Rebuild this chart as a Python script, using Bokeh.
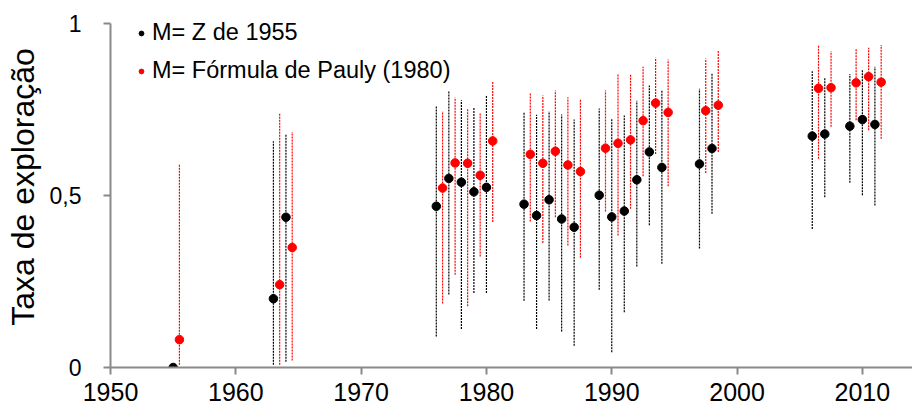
from bokeh.plotting import figure
from bokeh.models import ColumnDataSource, FixedTicker, Legend, LegendItem
from bokeh.transform import dodge
from bokeh.embed import file_html
from bokeh.resources import INLINE

nan = float("nan")

# ---- data ----
years = [1955, 1963, 1964, 1976, 1977, 1978, 1979, 1980, 1983, 1984, 1985, 1986,
         1987, 1989, 1990, 1991, 1992, 1993, 1994, 1997, 1998, 2006, 2007, 2009,
         2010, 2011]

# M = Z de 1955 (black)
z_vals = [0.000, 0.200, 0.437, 0.469, 0.550, 0.539, 0.511, 0.524, 0.475, 0.442,
          0.488, 0.432, 0.408, 0.501, 0.438, 0.455, 0.546, 0.627, 0.582, 0.592,
          0.637, 0.673, 0.679, 0.702, 0.721, 0.707]
z_lo = [nan, 0.008, 0.017, 0.090, 0.212, 0.112, 0.217, 0.217, 0.194, 0.112,
        0.195, 0.105, 0.063, 0.226, 0.044, 0.161, 0.294, 0.414, 0.302, 0.346,
        0.447, 0.403, 0.495, 0.537, 0.501, 0.471]
z_hi = [nan, 0.658, 0.680, 0.760, 0.806, 0.777, 0.758, 0.791, 0.743, 0.735,
        0.745, 0.736, 0.721, 0.753, 0.723, 0.733, 0.776, 0.820, 0.807, 0.811,
        0.855, 0.862, 0.843, 0.854, 0.867, 0.875]

# M = Fórmula de Pauly (1980) (red)
pauly_vals = [0.081, 0.241, 0.349, 0.522, 0.595, 0.594, 0.559, 0.659, 0.620, 0.594,
              0.629, 0.589, 0.570, 0.638, 0.652, 0.662, 0.718, 0.769, 0.742, 0.747,
              0.763, 0.812, 0.814, 0.828, 0.846, 0.830]
pauly_lo = [0.008, 0.008, 0.020, 0.186, 0.270, 0.178, 0.323, 0.423, 0.425, 0.362,
            0.437, 0.355, 0.319, 0.454, 0.384, 0.462, 0.556, 0.621, 0.527, 0.566,
            0.627, 0.607, 0.700, 0.719, 0.690, 0.665]
pauly_hi = [0.592, 0.739, 0.685, 0.745, 0.785, 0.753, 0.739, 0.833, 0.799, 0.791,
            0.806, 0.786, 0.780, 0.806, 0.852, 0.852, 0.875, 0.901, 0.896, 0.899,
            0.923, 0.937, 0.920, 0.927, 0.930, 0.938]

x_ticks = [1950, 1960, 1970, 1980, 1990, 2000, 2010]
y_ticks = [0, 0.5, 1]
y_tick_labels = ["0", "0,5", "1"]
series_labels = ["M= Z de 1955", "M= Fórmula de Pauly (1980)"]
y_title = "Taxa de exploração"

FONT = "Liberation Sans"
AXIS_GRAY = "#898989"
RED = "#FF0000"

src_z = ColumnDataSource(dict(x=years, y=z_vals, lo=z_lo, hi=z_hi))
src_p = ColumnDataSource(dict(x=years, y=pauly_vals, lo=pauly_lo, hi=pauly_hi))

p = figure(width=912, height=411, x_range=(1950, 2014.0), y_range=(0, 1.05),
           output_backend="svg", toolbar_location=None,
           min_border_left=110, min_border_right=0, min_border_top=6,
           min_border_bottom=44)
p.outline_line_color = None
p.xgrid.visible = False
p.ygrid.visible = False

# error bars (dotted)
p.segment(x0="x", y0="lo", x1="x", y1="hi", source=src_z,
          line_color="black", line_width=1.2, line_dash="2 1")
p.segment(x0=dodge("x", 0.5), y0="lo", x1=dodge("x", 0.5), y1="hi", source=src_p,
          line_color=RED, line_width=1.2, line_dash="2 1")

# points
rz = p.scatter(x="x", y="y", source=src_z, size=8.5, color="black")
rp = p.scatter(x=dodge("x", 0.5), y="y", source=src_p, size=8.5, color=RED)

legend = Legend(items=[LegendItem(label=series_labels[0], renderers=[rz]),
                       LegendItem(label=series_labels[1], renderers=[rp])],
                location=(25, 283), padding=0, margin=0, spacing=11,
                glyph_width=12, glyph_height=20, label_height=20, label_standoff=5,
                border_line_color=None, background_fill_alpha=0,
                label_text_font=FONT, label_text_font_size="23.5px",
                label_text_color="black")
p.add_layout(legend)

for ax in (p.xaxis, p.yaxis):
    ax.axis_line_color = AXIS_GRAY
    ax.axis_line_width = 2
    ax.major_tick_line_color = AXIS_GRAY
    ax.major_tick_line_width = 2
    ax.major_tick_in = 0
    ax.major_tick_out = 7
    ax.minor_tick_line_color = None
    ax.major_label_text_font = FONT
    ax.major_label_text_color = "black"

p.xaxis.ticker = FixedTicker(ticks=x_ticks)
p.xaxis.major_label_text_font_size = "25px"
p.xaxis.major_label_standoff = 8
p.yaxis.ticker = FixedTicker(ticks=y_ticks)
p.yaxis.bounds = (0, 1)
p.yaxis.major_label_text_font_size = "23px"
p.yaxis.major_label_overrides = {t: l for t, l in zip(y_ticks, y_tick_labels)}
p.yaxis.major_label_standoff = 22
p.yaxis.axis_label = y_title
p.yaxis.axis_label_text_font = FONT
p.yaxis.axis_label_text_font_size = "32px"
p.yaxis.axis_label_text_font_style = "normal"
p.yaxis.axis_label_text_color = "black"
p.yaxis.axis_label_standoff = 6

open("out.html", "w").write(file_html(p, INLINE))
